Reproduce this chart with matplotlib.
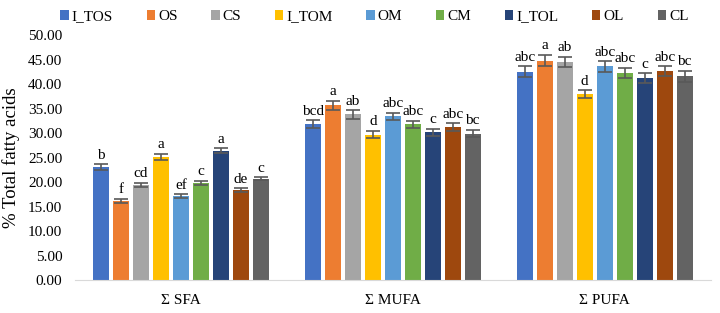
import matplotlib.pyplot as plt
import numpy as np

plt.rcParams['font.family'] = ['Liberation Serif', 'DejaVu Serif']

groups = ['Σ SFA', 'Σ MUFA', 'Σ PUFA']
series = ['I_TOS', 'OS', 'CS', 'I_TOM', 'OM', 'CM', 'I_TOL', 'OL', 'CL']
colors = ['#4472C4', '#ED7D31', '#A5A5A5', '#FFC000', '#5B9BD5',
          '#70AD47', '#264478', '#9E480E', '#636363']

# values per series: SFA, MUFA, PUFA
values = [
    [23.1, 31.8, 42.5],
    [16.2, 35.7, 44.8],
    [19.4, 33.8, 44.5],
    [25.2, 29.7, 38.0],
    [17.1, 33.4, 43.6],
    [19.9, 31.8, 42.3],
    [26.4, 30.2, 41.2],
    [18.3, 31.2, 42.6],
    [20.7, 29.9, 41.6],
]
errors = [
    [0.6, 0.8, 1.1],
    [0.4, 0.9, 1.2],
    [0.5, 0.9, 1.1],
    [0.6, 0.8, 0.8],
    [0.4, 0.8, 1.1],
    [0.4, 0.7, 1.0],
    [0.5, 0.7, 1.0],
    [0.4, 0.8, 1.0],
    [0.3, 0.8, 1.1],
]
letters = [
    ['b', 'bcd', 'abc'],
    ['f', 'a', 'a'],
    ['cd', 'ab', 'ab'],
    ['a', 'd', 'd'],
    ['ef', 'abc', 'abc'],
    ['c', 'abc', 'abc'],
    ['a', 'c', 'c'],
    ['de', 'abc', 'abc'],
    ['c', 'bc', 'bc'],
]

fig = plt.figure(figsize=(7.2, 3.13), dpi=100)
ax = fig.add_axes([0.104, 0.105, 0.883, 0.783])

x = np.arange(len(groups))
slot = 0.0943
width = 0.0755
for i, name in enumerate(series):
    pos = x + (i - 4) * slot
    ax.bar(pos, values[i], width, color=colors[i], label=name,
           yerr=errors[i], capsize=5,
           error_kw=dict(ecolor='#595959', elinewidth=1.2, capthick=1.2))
    for p, v, e, t in zip(pos, values[i], errors[i], letters[i]):
        ax.text(p, v + e + 0.5, t, ha='center', va='bottom', fontsize=11)

ax.set_xlim(-0.5, 2.5)
ax.set_ylim(0, 50)
ticks = np.arange(0, 50.1, 5)
ax.set_yticks(ticks)
ax.set_yticklabels([f'{v:.2f}' for v in ticks], fontsize=11)
ax.set_xticks(x)
ax.set_xticklabels(groups, fontsize=11)
ax.tick_params(length=0)
ax.tick_params(axis='y', pad=9)
ax.tick_params(axis='x', pad=10)
ax.set_ylabel('% Total fatty acids', fontsize=13.5, labelpad=6)
for s in ['top', 'right', 'left']:
    ax.spines[s].set_visible(False)
ax.spines['bottom'].set_color('#D9D9D9')

fig.legend(ncol=9, loc='center', bbox_to_anchor=(0.52, 0.946),
           frameon=False, fontsize=11, handlelength=0.55, handleheight=0.55,
           handletextpad=0.2, columnspacing=2.2)

fig.savefig('out.png', dpi=100)
